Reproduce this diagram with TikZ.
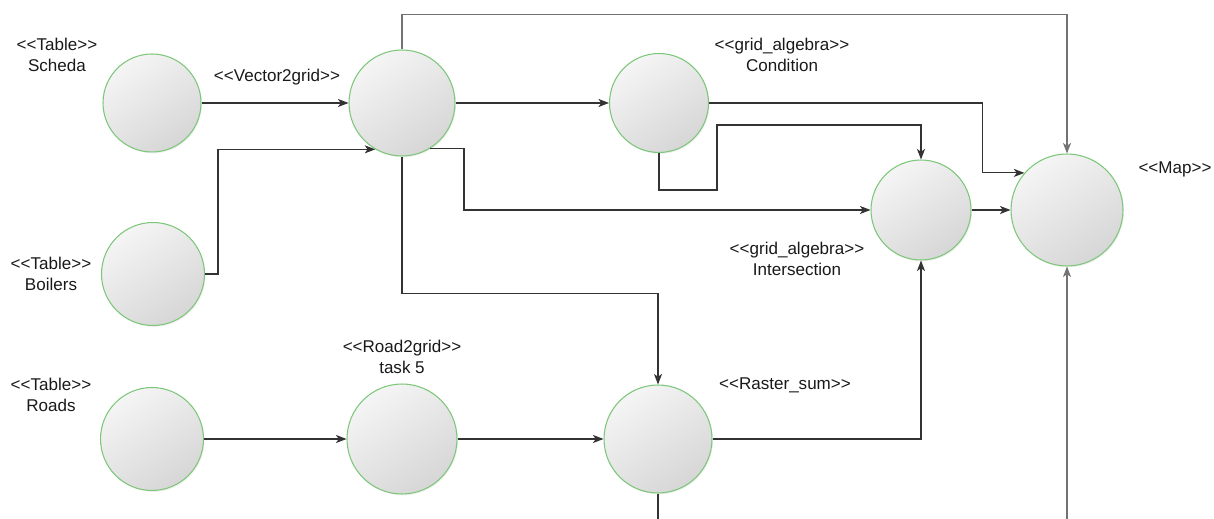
\documentclass[tikz,border=0pt]{standalone}
\usepackage{fontspec}
\setmainfont{Liberation Sans}[Ligatures=TeXOff]
\usetikzlibrary{arrows.meta, shadows}

\definecolor{rimgreen}{HTML}{7CC779}
\definecolor{linegray}{HTML}{333333}
\newcommand{\stereo}[1]{<<#1>>}

\begin{document}
\begin{tikzpicture}[x=0.02cm, y=-0.02cm,
  proc/.style={circle, draw=rimgreen, line width=0.6pt, inner sep=0pt,
    top color=black!4, bottom color=black!16, shading angle=35,
    drop shadow={opacity=0.12, shadow xshift=0.6pt, shadow yshift=-0.8pt}},
  lbl/.style={align=center, font=\fontsize{9.7}{12.2}\selectfont, text=black!90, inner sep=0pt},
  link/.style={draw=linegray, line width=0.6pt, -{Stealth[length=6pt, width=4.6pt, inset=1.6pt]}},
  longlink/.style={link, draw=black!55}]
  \useasboundingbox (0,0) rectangle (1214,519);

  % process circles
  \node[proc, minimum size=1.96cm] (scheda) at (152,103) {};
  \node[proc, minimum size=2.12cm] (vgrid) at (402,103) {};
  \node[proc, minimum size=1.98cm] (cond) at (659,103) {};
  \node[proc, minimum size=2.06cm] (boilers) at (153,274) {};
  \node[proc, minimum size=2.00cm] (isec) at (921,210) {};
  \node[proc, minimum size=2.24cm] (map) at (1067,210) {};
  \node[proc, minimum size=2.06cm] (roads) at (152,439) {};
  \node[proc, minimum size=2.20cm] (rgrid) at (402,439) {};
  \node[proc, minimum size=2.16cm] (rsum) at (658,439) {};

  % labels
  \node[lbl] (scheda-lbl) at (57,55) {\stereo{Table}\\Scheda};
  \node[lbl] (vgrid-lbl) at (277,77) {\stereo{Vector2grid}};
  \node[lbl] (cond-lbl) at (782,55) {\stereo{grid\_algebra}\\Condition};
  \node[lbl] (boilers-lbl) at (51,274) {\stereo{Table}\\Boilers};
  \node[lbl] (isec-lbl) at (797,259) {\stereo{grid\_algebra}\\Intersection};
  \node[lbl] (map-lbl) at (1175,169) {\stereo{Map}};
  \node[lbl] (roads-lbl) at (51,395) {\stereo{Table}\\Roads};
  \node[lbl] (rgrid-lbl) at (402,357) {\stereo{Road2grid}\\task 5};
  \node[lbl] (rsum-lbl) at (785,385) {\stereo{Raster\_sum}};

  % connectors leaving the frame
  \coordinate (cut1) at (658,519);
  \coordinate (cut2) at (1067,519);

  \draw[link] (scheda) -- (vgrid);
  \draw[link] (boilers.east) -- ++(13,0) |- (vgrid.-120);
  \draw[link] (vgrid) -- (cond);
  \draw[longlink] (vgrid.north) -- ++(0,-35) -| (map.north);
  \draw[link] (vgrid.-58) -| (464,210) -- (isec);
  \draw[link] (vgrid.south) -- ++(0,137) -| (rsum.north);
  \draw[link] (cond.east) -- ++(273,0) |- (map.139);
  \draw[link] (cond.south) |- (717,190) |- (921,125) -- (isec.north);
  \draw[link] (isec) -- (map);
  \draw[link] (roads) -- (rgrid);
  \draw[link] (rgrid) -- (rsum);
  \draw[link] (rsum.east) -| (isec.south);
  \draw[draw=linegray, line width=0.6pt] (rsum.south) -- (cut1);
  \draw[longlink] (cut2) -- (map.south);
\end{tikzpicture}
\end{document}
